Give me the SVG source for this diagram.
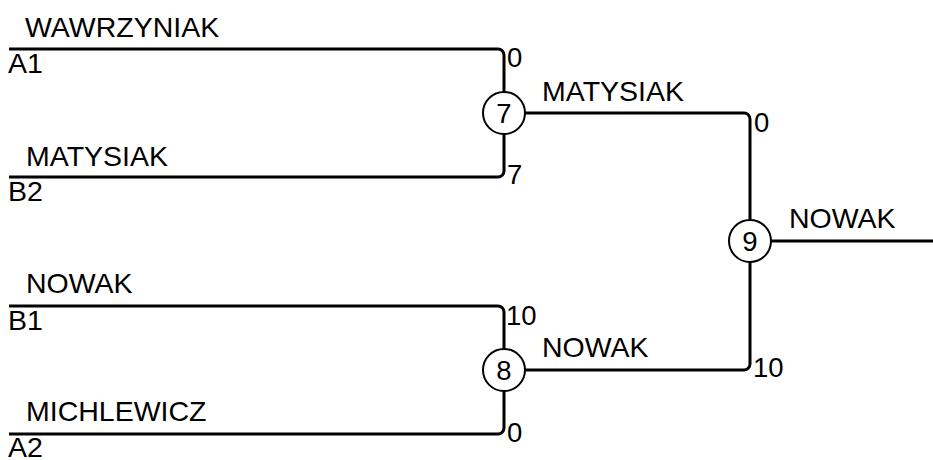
<svg xmlns="http://www.w3.org/2000/svg" width="933" height="460" viewBox="0 0 933 460">
<style>
text{font-family:"Liberation Sans",Arial,sans-serif;font-size:28.5px;fill:#000}
.n{font-size:27.5px}
.ln{fill:none;stroke:#000;stroke-width:3}
.nd circle{fill:#fff;stroke:#000;stroke-width:2}
.c{text-anchor:middle;font-size:27.5px}
</style>
<rect width="933" height="460" fill="#fff"/>
<g id="connectors">
<path class="ln" d="M9,49 H498 A6,6 0 0 1 504,55 V92"/>
<path class="ln" d="M9,177 H498 A6,6 0 0 0 504,171 V134"/>
<path class="ln" d="M9,306 H498 A6,6 0 0 1 504,312 V349"/>
<path class="ln" d="M9,434 H498 A6,6 0 0 0 504,428 V391"/>
<path class="ln" d="M525,113 H744 A6,6 0 0 1 750,119 V220"/>
<path class="ln" d="M525,370 H744 A6,6 0 0 0 750,364 V262"/>
<path class="ln" d="M771,241 H933"/>
</g>
<g id="labels">
<text x="25" y="37">WAWRZYNIAK</text>
<text x="8" y="73">A1</text>
<text x="26" y="166">MATYSIAK</text>
<text x="8" y="201">B2</text>
<text x="26" y="293">NOWAK</text>
<text x="8" y="330">B1</text>
<text x="26" y="421">MICHLEWICZ</text>
<text x="8" y="457">A2</text>
<text x="542" y="101">MATYSIAK</text>
<text x="542" y="357">NOWAK</text>
<text x="789" y="228">NOWAK</text>
<text class="n" x="507" y="67">0</text>
<text class="n" x="507" y="184">7</text>
<text class="n" x="506" y="325">10</text>
<text class="n" x="507" y="442">0</text>
<text class="n" x="754" y="132">0</text>
<text class="n" x="753" y="377">10</text>
</g>
<g id="node7" class="nd"><circle cx="504" cy="113" r="21"/><text class="c" x="504" y="123">7</text></g>
<g id="node8" class="nd"><circle cx="504" cy="370" r="21"/><text class="c" x="504" y="380">8</text></g>
<g id="node9" class="nd"><circle cx="750" cy="241" r="21"/><text class="c" x="750" y="251">9</text></g>
</svg>
